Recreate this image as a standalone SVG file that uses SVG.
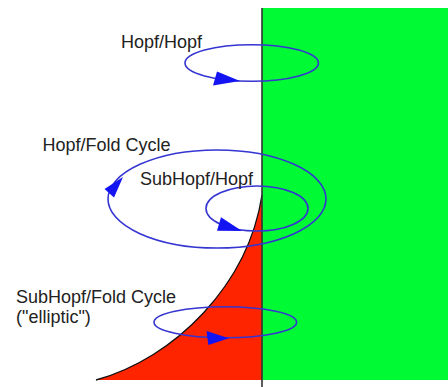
<svg xmlns="http://www.w3.org/2000/svg" width="448" height="387" viewBox="0 0 448 387">
  <style>
    .label { font-family: "Liberation Sans", Arial, sans-serif; font-size: 18px; fill: #222; }
    .orbit { fill: none; stroke: #3535d2; stroke-width: 1.6; }
    .head { fill: #1414f2; stroke: none; }
  </style>
  <rect width="448" height="387" fill="#ffffff"/>

  <!-- regions -->
  <g id="regions">
    <rect id="green-region" x="262" y="8" width="186" height="372" fill="#00fa34"/>
    <path id="red-region" d="M96 380 C175 358 248 285 262 195 L262 380 Z" fill="#ff2400"/>
    <path d="M96 380 C175 358 248 285 262 195" fill="none" stroke="#111" stroke-width="1.3"/>
    <line x1="262" y1="8" x2="262" y2="387" stroke="#333" stroke-width="1.6"/>
  </g>

  <!-- cycles with direction heads -->
  <g id="connectors">
    <g id="hopf-hopf">
      <ellipse class="orbit" cx="251.7" cy="63" rx="66.7" ry="18.3"/>
      <polygon class="head" points="213,85.5 217,71.5 240,81"/>
    </g>
    <g id="hopf-fold-cycle">
      <ellipse class="orbit" cx="217" cy="199" rx="109" ry="49"/>
      <polygon class="head" points="104.5,189 114,197.5 123,177"/>
    </g>
    <g id="subhopf-hopf">
      <ellipse class="orbit" cx="257" cy="208.5" rx="51" ry="22.5"/>
      <polygon class="head" points="217,230.7 221,217.3 242,231"/>
    </g>
    <g id="subhopf-fold-cycle">
      <ellipse class="orbit" cx="225.3" cy="322.2" rx="71.3" ry="15.5"/>
      <polygon class="head" points="206.5,331 208.3,345 229,338.3"/>
    </g>
  </g>

  <!-- labels -->
  <g id="labels">
    <text class="label" x="121" y="48">Hopf/Hopf</text>
    <text class="label" x="42.5" y="151">Hopf/Fold Cycle</text>
    <text class="label" x="140" y="184.5">SubHopf/Hopf</text>
    <text class="label" x="16" y="303">SubHopf/Fold Cycle</text>
    <text class="label" x="16" y="323">("elliptic")</text>
  </g>
</svg>
